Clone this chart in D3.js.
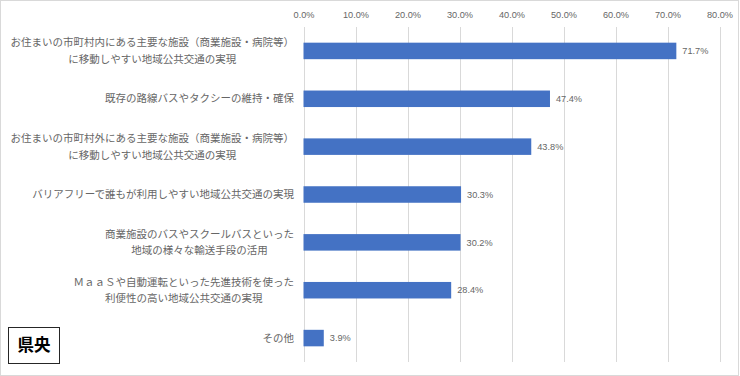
<!DOCTYPE html>
<html>
<head>
<meta charset="utf-8">
<script src="https://cdn.jsdelivr.net/npm/d3@7"></script>
<style>
  body { margin: 0; background: #fff; }
  svg { display: block; }
</style>
</head>
<body>
<svg id="chart" width="740" height="376"></svg>
<script>
// chart data
const categories = [
  "お住まいの市町村内にある主要な施設（商業施設・病院等）\nに移動しやすい地域公共交通の実現",
  "既存の路線バスやタクシーの維持・確保",
  "お住まいの市町村外にある主要な施設（商業施設・病院等）\nに移動しやすい地域公共交通の実現",
  "バリアフリーで誰もが利用しやすい地域公共交通の実現",
  "商業施設のバスやスクールバスといった\n地域の様々な輸送手段の活用",
  "ＭａａＳや自動運転といった先進技術を使った\n利便性の高い地域公共交通の実現",
  "その他",
];
const values = [71.7, 47.4, 43.8, 30.3, 30.2, 28.4, 3.9];
const tickValues = [0, 10, 20, 30, 40, 50, 60, 70, 80];
const regionLabel = "県央";

const svg = d3.select("#chart");
const jpFont = "'Noto Sans CJK JP', sans-serif";
const numFont = "'Liberation Sans', Arial, sans-serif";
const grey = "#666666";

// outer chart border
svg
  .append("rect")
  .attr("x", 0.5)
  .attr("y", 0.5)
  .attr("width", 738)
  .attr("height", 375)
  .attr("fill", "#fff")
  .attr("stroke", "#d9d9d9");

const x = d3.scaleLinear().domain([0, 80]).range([303.5, 719.5]);
const y = d3
  .scaleBand()
  .domain(categories)
  .range([27, 362])
  .paddingInner(0.655)
  .paddingOuter(0.3275);

// vertical gridlines
svg
  .append("g")
  .selectAll("line")
  .data(tickValues)
  .enter()
  .append("line")
  .attr("x1", (d) => Math.round(x(d)) + 0.5)
  .attr("x2", (d) => Math.round(x(d)) + 0.5)
  .attr("y1", 27)
  .attr("y2", 362)
  .attr("stroke", "#d9d9d9")
  .attr("stroke-width", 1);

// top axis labels
const axis = d3
  .axisTop(x)
  .tickValues(tickValues)
  .tickSize(0)
  .tickPadding(0)
  .tickFormat((d) => d.toFixed(1) + "%");

svg
  .append("g")
  .attr("transform", "translate(0,18)")
  .call(axis)
  .call((g) => g.select(".domain").remove())
  .selectAll("text")
  .attr("fill", grey)
  .attr("font-family", numFont)
  .attr("font-size", "9.2px");

// bars
svg
  .append("g")
  .selectAll("rect")
  .data(values)
  .enter()
  .append("rect")
  .attr("x", x(0))
  .attr("y", (d, i) => y(categories[i]))
  .attr("width", (d) => x(d) - x(0))
  .attr("height", y.bandwidth())
  .attr("fill", "#4472c4");

// value labels
svg
  .append("g")
  .selectAll("text")
  .data(values)
  .enter()
  .append("text")
  .attr("x", (d) => x(d) + 6)
  .attr("y", (d, i) => y(categories[i]) + y.bandwidth() / 2)
  .attr("dy", "0.35em")
  .attr("fill", grey)
  .attr("font-family", numFont)
  .attr("font-size", "9.2px")
  .text((d) => d.toFixed(1) + "%");

// category labels: block right-aligned, lines centred inside the block
const labelRight = 294;
const lineGap = 16.7;

categories.forEach(function (cat, i) {
  const lines = cat.split("\n");
  const cy = y(cat) + y.bandwidth() / 2;
  const g = svg.append("g");
  const texts = lines.map(function (line, j) {
    return g
      .append("text")
      .attr("y", cy + (j - (lines.length - 1) / 2) * lineGap)
      .attr("dy", "0.35em")
      .attr("fill", grey)
      .attr("font-family", jpFont)
      .attr("font-size", "10.5px")
      .attr("text-anchor", "middle")
      .text(line);
  });
  const widest = d3.max(texts, (t) => t.node().getComputedTextLength());
  texts.forEach((t) => t.attr("x", labelRight - widest / 2));
});

// region box
svg
  .append("rect")
  .attr("x", 8.5)
  .attr("y", 327.5)
  .attr("width", 51)
  .attr("height", 36)
  .attr("fill", "#fff")
  .attr("stroke", "#262626")
  .attr("stroke-width", 1);

svg
  .append("text")
  .attr("x", 34)
  .attr("y", 345.5)
  .attr("dy", "0.35em")
  .attr("text-anchor", "middle")
  .attr("font-family", jpFont)
  .attr("font-weight", "bold")
  .attr("font-size", "16.5px")
  .attr("fill", "#000")
  .text(regionLabel);
</script>
</body>
</html>
